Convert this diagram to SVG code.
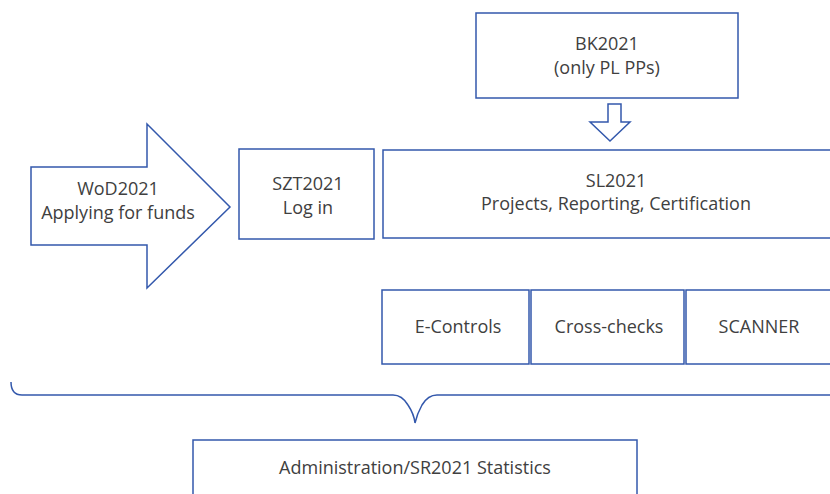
<svg xmlns="http://www.w3.org/2000/svg" width="830" height="494" viewBox="0 0 830 494">
<style>
.b{fill:#fff;stroke:#3358ac;stroke-width:1.5}
.c{fill:none;stroke:#3358ac;stroke-width:1.5}
text{font-family:"Open Sans","Noto Sans",sans-serif;font-size:18px;fill:#404040;text-anchor:middle}
</style>
<rect width="830" height="494" fill="#fff"/>
<g id="wod">
<polygon class="b" points="31,167 147,167 147,124 230,207 147,288 147,245 31,245"/>
<text x="118" y="195">WoD2021</text>
<text x="118" y="219">Applying for funds</text>
</g>
<g id="szt">
<rect class="b" x="239" y="149" width="135" height="90"/>
<text x="308" y="190">SZT2021</text>
<text x="308" y="214">Log in</text>
</g>
<g id="bk">
<rect class="b" x="476" y="13" width="262" height="85"/>
<text x="607" y="50">BK2021</text>
<text x="607" y="74">(only PL PPs)</text>
</g>
<g id="sl">
<rect class="b" x="383" y="150" width="460" height="88"/>
<text x="616" y="187">SL2021</text>
<text x="616" y="210">Projects, Reporting, Certification</text>
</g>
<g id="econtrols">
<rect class="b" x="382" y="290" width="147" height="74"/>
<text x="458" y="333">E-Controls</text>
</g>
<g id="crosschecks">
<rect class="b" x="531" y="290" width="153" height="74"/>
<text x="609" y="333">Cross-checks</text>
</g>
<g id="scanner">
<rect class="b" x="686" y="290" width="160" height="74"/>
<text x="759" y="333">SCANNER</text>
</g>
<g id="admin">
<rect class="b" x="193" y="440" width="444" height="70"/>
<text x="415" y="474">Administration/SR2021 Statistics</text>
</g>
<g id="connectors">
<polygon class="b" points="608,104 621,104 621,122 630,122 610,141 590,122 608,122"/>
<path class="c" d="M11,382 Q11,395 22,395 L393,395 Q402,395 408,405 Q414,414 415,423 Q417,414 422,405 Q428,395 437,395 L840,395"/>
</g>
</svg>
